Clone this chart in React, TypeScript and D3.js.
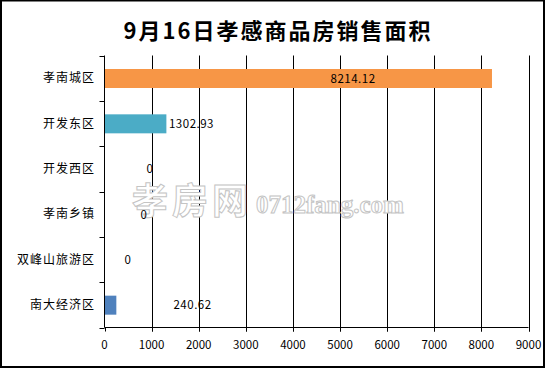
import { useEffect, useRef } from 'react';
import * as d3 from 'd3';

const categories = ['孝南城区', '开发东区', '开发西区', '孝南乡镇', '双峰山旅游区', '南大经济区'];
const values = [8214.12, 1302.93, 0, 0, 0, 240.62];
const labels = ['8214.12', '1302.93', '0', '0', '0', '240.62'];
// where the data labels sit, in axis units (the original places them oddly)
const labelAt = [5277, 1369, 966, 838, 499, 1869];
const labelAnchor = ['middle', 'start', 'middle', 'middle', 'middle', 'middle'];
const colors = ['#F79646', '#4BACC6', '#4BACC6', '#4BACC6', '#4BACC6', '#4F81BD'];
const xTicks = [0, 1000, 2000, 3000, 4000, 5000, 6000, 7000, 8000, 9000];

const W = 546;
const H = 369;
const NUM_FONT = '"Noto Sans CJK SC", "DejaVu Sans", sans-serif';

const App = () => {
    const svgRef = useRef<SVGSVGElement>(null);

    useEffect(() => {
        const svg = d3.select(svgRef.current);
        svg.selectAll('*').remove();

        const left = 104.5, right = 528.5, top = 55.5, bottom = 327.5;

        const x = d3.scaleLinear().domain([0, 9000]).range([left, right]);
        const y = d3.scaleBand().domain(categories).range([top, bottom]).paddingInner(0).paddingOuter(0);

        // white background + frame
        svg.append('rect').attr('x', 0).attr('y', 0).attr('width', W).attr('height', H).attr('fill', 'white');
        svg.append('rect')
            .attr('x', 1).attr('y', 0.5).attr('width', 543).attr('height', 366.5)
            .attr('fill', 'none').attr('stroke', 'black').attr('stroke-width', 2);

        // title
        svg.append('text')
            .attr('x', 278).attr('y', 39)
            .attr('text-anchor', 'middle')
            .style('font-family', '"Noto Sans CJK SC", sans-serif')
            .style('font-size', '22px')
            .style('font-weight', 'bold')
            .style('letter-spacing', '2px')
            .text('9月16日孝感商品房销售面积');

        // vertical grid lines
        svg.append('g').selectAll('line')
            .data(xTicks.slice(1))
            .enter().append('line')
            .attr('x1', d => Math.round(x(d)) + 0.5).attr('x2', d => Math.round(x(d)) + 0.5)
            .attr('y1', top).attr('y2', bottom + 4)
            .attr('stroke', 'black');

        // watermark
        const wm = svg.append('g')
            .attr('fill', 'white').attr('stroke', '#c4c4c4').attr('stroke-width', 1);
        wm.append('text')
            .attr('x', 132).attr('y', 214)
            .style('font-family', '"Noto Sans CJK SC", sans-serif')
            .style('font-size', '36px')
            .style('font-weight', 'bold')
            .style('letter-spacing', '4px')
            .text('孝房网');
        wm.append('text')
            .attr('x', 256).attr('y', 213)
            .style('font-family', '"Liberation Serif", serif')
            .style('font-size', '25px')
            .style('font-weight', 'bold')
            .text('0712fang.com');

        // bars
        svg.append('g').selectAll('rect')
            .data(values)
            .enter().append('rect')
            .attr('x', x(0) + 0.5)
            .attr('y', (d, i) => (y(categories[i]) as number) + 13.5)
            .attr('width', d => Math.max(0, x(d) - x(0)))
            .attr('height', 19)
            .attr('fill', (d, i) => colors[i]);

        // data labels
        svg.append('g').selectAll('text')
            .data(labels)
            .enter().append('text')
            .attr('x', (d, i) => x(labelAt[i]))
            .attr('y', (d, i) => (y(categories[i]) as number) + y.bandwidth() / 2 + 0.5)
            .attr('dy', '0.35em')
            .attr('text-anchor', (d, i) => labelAnchor[i])
            .style('font-family', NUM_FONT)
            .style('font-size', '11.5px')
            .style('letter-spacing', '0.5px')
            .text(d => d);

        // y axis
        const yAxis = svg.append('g');
        yAxis.append('line')
            .attr('x1', left).attr('x2', left).attr('y1', top).attr('y2', bottom)
            .attr('stroke', 'black');
        const bounds = categories.map(c => y(c) as number).concat([bottom]);
        yAxis.selectAll('line.tick')
            .data(bounds)
            .enter().append('line')
            .attr('class', 'tick')
            .attr('x1', left - 5).attr('x2', left)
            .attr('y1', d => Math.round(d) + 0.5).attr('y2', d => Math.round(d) + 0.5)
            .attr('stroke', 'black');
        yAxis.selectAll('text')
            .data(categories)
            .enter().append('text')
            .attr('x', 95)
            .attr('y', d => (y(d) as number) + y.bandwidth() / 2)
            .attr('dy', '0.35em')
            .attr('text-anchor', 'end')
            .style('font-family', '"Noto Sans CJK SC", sans-serif')
            .style('font-size', '12px')
            .style('letter-spacing', '1px')
            .text(d => d);

        // x axis
        const xAxis = svg.append('g');
        xAxis.append('line')
            .attr('x1', left).attr('x2', right).attr('y1', bottom).attr('y2', bottom)
            .attr('stroke', 'black');
        xAxis.selectAll('line.tick')
            .data(xTicks)
            .enter().append('line')
            .attr('class', 'tick')
            .attr('x1', d => Math.round(x(d)) + 0.5).attr('x2', d => Math.round(x(d)) + 0.5)
            .attr('y1', bottom).attr('y2', bottom + 4)
            .attr('stroke', 'black');
        xAxis.selectAll('text')
            .data(xTicks)
            .enter().append('text')
            .attr('x', d => x(d))
            .attr('y', 345)
            .attr('dy', '0.35em')
            .attr('text-anchor', 'middle')
            .style('font-family', NUM_FONT)
            .style('font-size', '11.5px')
            .text(d => String(d));
    }, []);

    return (
        <svg ref={svgRef} width={W} height={H}
            style={{ position: 'absolute', left: 0, top: 0, display: 'block' }}></svg>
    );
};

export default App;
